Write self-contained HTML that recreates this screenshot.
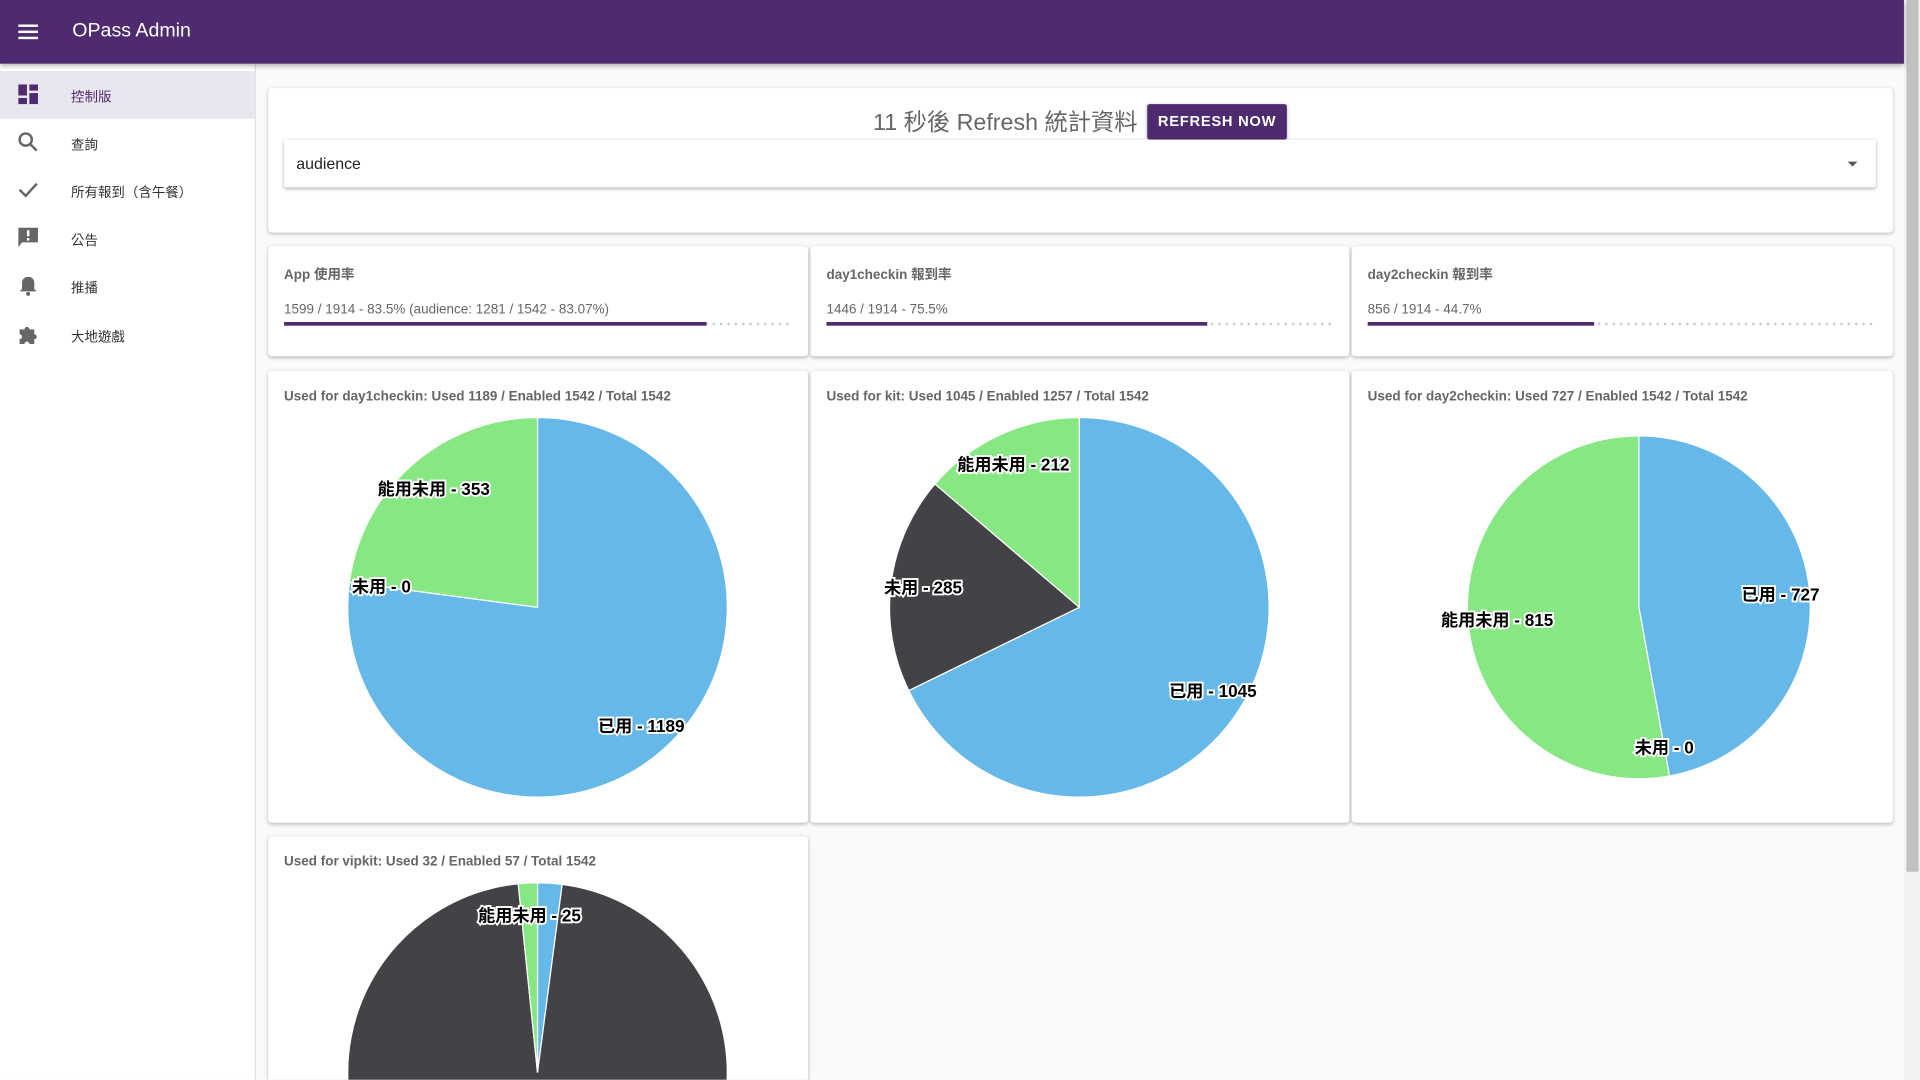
<!DOCTYPE html>
<html><head><meta charset="utf-8">
<style>
html,body{margin:0;padding:0;width:1920px;height:1080px;overflow:hidden;background:#fafafa;}
#wrap{position:absolute;left:0;top:0;width:1568px;height:882px;transform:scale(1.2244);transform-origin:0 0;font-family:"Liberation Sans","Noto Sans CJK TC",sans-serif;background:#fafafa;overflow:hidden;}
.abs{position:absolute;}
#topbar{left:0;top:0;width:1555px;height:52px;background:#4e2a6e;box-shadow:0 2px 4px rgba(0,0,0,.3);z-index:3;}
#sidebar{left:0;top:52px;width:208px;height:830px;background:#fff;border-right:1px solid #e0e0e0;}
.nav{position:absolute;left:0;width:208px;height:39px;font-size:11px;color:#333;}
.nav span.t{position:absolute;left:58px;top:13px;}
.nav .ic{position:absolute;left:14px;top:10px;width:18px;height:18px;}
.card{position:absolute;background:#fff;border-radius:3px;box-shadow:0 1px 3px rgba(0,0,0,.25);}
.ptitle{position:absolute;left:13px;top:15px;font-size:11px;font-weight:bold;color:#666;}
.ptext{position:absolute;left:13px;top:46px;font-size:11px;color:#666;}
.bar{position:absolute;left:13px;top:62px;height:3px;}
#scroll{left:1555px;top:0;width:13px;height:882px;background:#f1f1f1;}
</style></head><body>
<div id="wrap">
<div id="topbar" class="abs">
  <svg class="abs" style="left:14px;top:17px" width="18" height="18" viewBox="0 0 18 18"><rect x="1" y="3" width="16" height="2" fill="#fff"/><rect x="1" y="8" width="16" height="2" fill="#fff"/><rect x="1" y="13" width="16" height="2" fill="#fff"/></svg>
  <div class="abs" style="left:59px;top:17px;font-size:16px;color:#fff;">OPass Admin</div>
</div>
<div id="sidebar" class="abs">
  <div class="nav" style="top:6px;background:#e8e6ee;color:#4e2a6e"><svg class="ic" viewBox="0 0 18 18"><rect x="1" y="1" width="7" height="9" fill="#4e2a6e"/><rect x="10" y="1" width="7" height="5" fill="#4e2a6e"/><rect x="10" y="8" width="7" height="9" fill="#4e2a6e"/><rect x="1" y="12" width="7" height="5" fill="#4e2a6e"/></svg><span class="t">控制版</span></div>
  <div class="nav" style="top:45px"><svg class="ic" viewBox="0 0 18 18"><circle cx="7" cy="7" r="5" stroke="#666" stroke-width="2" fill="none"/><line x1="11" y1="11" x2="16" y2="16" stroke="#666" stroke-width="2"/></svg><span class="t">查詢</span></div>
  <div class="nav" style="top:84px"><svg class="ic" viewBox="0 0 18 18"><polyline points="2,9 7,14 16,4" stroke="#666" stroke-width="2" fill="none"/></svg><span class="t">所有報到（含午餐）</span></div>
  <div class="nav" style="top:123px"><svg class="ic" viewBox="0 0 18 18"><path d="M1 1h16v12H4l-3 4z" fill="#666"/><rect x="8" y="3" width="2" height="5" fill="#fff"/><rect x="8" y="9.5" width="2" height="2" fill="#fff"/></svg><span class="t">公告</span></div>
  <div class="nav" style="top:162px"><svg class="ic" viewBox="0 0 18 18"><path d="M9 2c3 0 5 2 5 5v5l2 2H2l2-2V7c0-3 2-5 5-5z" fill="#666"/><circle cx="9" cy="16" r="1.6" fill="#666"/></svg><span class="t">推播</span></div>
  <div class="nav" style="top:202px"><svg class="ic" viewBox="0 0 18 18"><path d="M2 5h4a2 2 0 1 1 4 0h4v4a2 2 0 1 1 0 4v4H10a2 2 0 1 0-4 0H2v-4a2 2 0 1 0 0-4z" fill="#666"/></svg><span class="t">大地遊戲</span></div>
</div>
<div id="scroll" class="abs"><div class="abs" style="left:2px;top:0;width:10px;height:712px;background:#c1c1c1"></div></div>

<div class="card" style="left:219px;top:72px;width:1327px;height:118px">
  <div class="abs" style="left:494px;top:13px;font-size:19px;color:#666">11 秒後 Refresh 統計資料</div>
  <div class="abs" style="left:718px;top:13px;width:114px;height:29px;background:#4e2a6e;border-radius:2px;box-shadow:0 1px 3px rgba(0,0,0,.3);color:#fff;font-size:12px;font-weight:bold;letter-spacing:.6px;line-height:29px;text-align:center">REFRESH NOW</div>
  <div class="abs" style="left:13px;top:42px;width:1300px;height:39px;background:#fff;box-shadow:0 1px 3px rgba(0,0,0,.3);border-radius:2px">
    <div class="abs" style="left:10px;top:12px;font-size:13px;color:#222">audience</div>
    <div class="abs" style="left:1277px;top:18px;width:0;height:0;border-left:4px solid transparent;border-right:4px solid transparent;border-top:4px solid #555"></div>
  </div>
</div>

<div id="progress"></div>
<div id="pies"></div>
</div>
<script>
const progTitles=["App 使用率","day1checkin 報到率","day2checkin 報到率"];
const progText=["1599 / 1914 - 83.5% (audience: 1281 / 1542 - 83.07%)","1446 / 1914 - 75.5%","856 / 1914 - 44.7%"];
const progValues=[1599,1446,856];
const progTotals=[1914,1914,1914];

const pieTitles=["Used for day1checkin: Used 1189 / Enabled 1542 / Total 1542","Used for kit: Used 1045 / Enabled 1257 / Total 1542","Used for day2checkin: Used 727 / Enabled 1542 / Total 1542","Used for vipkit: Used 32 / Enabled 57 / Total 1542"];
const sliceNames=["已用","未用","能用未用"];
const usedVals=[1189,1045,727,32];
const unusedVals=[0,285,0,1485];
const availVals=[353,212,815,25];
const hiddenLabels=[[],[],[],[0]];

const W=document.getElementById('wrap');
const cardX=[219,662,1104],cardW=[441,440,442];
const NS="http://www.w3.org/2000/svg";
for(let i=0;i<3;i++){
  const c=document.createElement('div');c.className='card';
  
  
  c.style.cssText=`left:${cardX[i]}px;top:201px;width:${cardW[i]}px;height:90px`;
  const t=document.createElement('div');t.className='ptitle';t.textContent=progTitles[i];
  
  
  const p=document.createElement('div');p.className='ptext';p.textContent=progText[i];
  
  
  const bw=cardW[i]-28,f=progValues[i]/progTotals[i];
  const b=document.createElement('div');b.className='bar';
  
  
  b.style.width=bw+'px';
  b.style.background='radial-gradient(circle,#d4c8e0 1px,transparent 1.3px) 0 0/6px 3px repeat-x';
  const fill=document.createElement('div');
  
  
  fill.style.cssText=`position:absolute;left:0;top:0;height:3px;background:#4e2a6e;width:${bw*f}px`;
  b.appendChild(fill);
  c.append(t,p,b);W.appendChild(c);
}
const pieCard=[[219,303],[662,303],[1104,303],[219,683]];
const pieR=[155,155,140,155];
const pieCY=[193,193,193,193];
const colors=["#66b8e8","#434347","#86e783"];
for(let i=0;i<4;i++){
  const c=document.createElement('div');c.className='card';
  
  
  const w=cardW[i%3];
  c.style.cssText=`left:${pieCard[i][0]}px;top:${pieCard[i][1]}px;width:${w}px;height:${i<3?369:199}px;overflow:hidden`+(i==3?';border-radius:3px 3px 0 0':'');
  const t=document.createElement('div');t.className='ptitle';t.style.top='15px';t.textContent=pieTitles[i];
  
  
  c.appendChild(t);
  const svg=document.createElementNS(NS,'svg');
  svg.setAttribute('width',w);svg.setAttribute('height',i<3?369:199);
  svg.style.cssText='position:absolute;left:0;top:0';
  
  
  const vals=[usedVals[i],unusedVals[i],availVals[i]];
  const tot=vals.reduce((a,b)=>a+b,0);
  const cx=w/2-0.5+(i==2?14:0),cy=pieCY[i],r=pieR[i];
  const pt=(a,rr)=>[cx+rr*Math.sin(a),cy-rr*Math.cos(a)];
  let a0=0;const labs=[];
  vals.forEach((v,k)=>{
    const a1=a0+v/tot*2*Math.PI;
    if(v>0){
      const [x0,y0]=pt(a0,r),[x1,y1]=pt(a1,r);
      const path=document.createElementNS(NS,'path');
      path.setAttribute('d',`M${cx},${cy}L${x0},${y0}A${r},${r} 0 ${a1-a0>Math.PI?1:0} 1 ${x1},${y1}Z`);
      path.setAttribute('fill',colors[k]);path.setAttribute('stroke','#fff');path.setAttribute('stroke-width','1');
      
      
      svg.appendChild(path);
    }
    if(!hiddenLabels[i].includes(k)) labs.push([(a0+a1)/2,sliceNames[k]+' - '+v]);
    a0=a1;
  });
  labs.forEach(([a,s])=>{
    const [x,y]=pt(a,r*0.83);
    const tx=document.createElementNS(NS,'text');
    tx.setAttribute('x',x);tx.setAttribute('y',y+5);tx.setAttribute('text-anchor','middle');
    tx.setAttribute('font-size','14');tx.setAttribute('font-weight','bold');
    tx.setAttribute('stroke','#fff');tx.setAttribute('stroke-width','3');tx.setAttribute('paint-order','stroke');
    tx.setAttribute('fill','#000');
    
    
    tx.textContent=s;svg.appendChild(tx);
  });
  c.appendChild(svg);W.appendChild(c);
}
</script>
</body></html>
